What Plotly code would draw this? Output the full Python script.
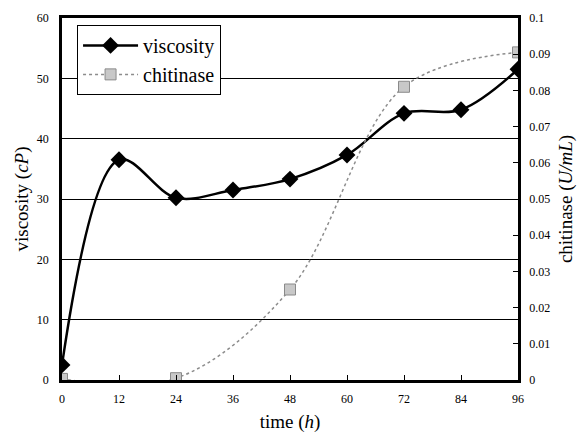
import plotly.graph_objects as go

time_visc = [0, 12, 24, 36, 48, 60, 72, 84, 96]
viscosity = [2.5, 36.5, 30.2, 31.5, 33.3, 37.3, 44.2, 44.8, 51.5]
time_chit = [0, 24, 48, 72, 96]
chitinase = [0.0003, 0.0005, 0.025, 0.081, 0.0905]
x_ticks = [0, 12, 24, 36, 48, 60, 72, 84, 96]
y2_ticks = [0, 0.01, 0.02, 0.03, 0.04, 0.05, 0.06, 0.07, 0.08, 0.09, 0.1]
y2_labels = ["0", "0.01", "0.02", "0.03", "0.04", "0.05", "0.06", "0.07", "0.08", "0.09", "0.1"]

FONT = "Liberation Serif, Times New Roman, serif"

fig = go.Figure()
fig.add_trace(go.Scatter(
    x=time_visc, y=viscosity, name="viscosity", mode="lines+markers",
    line=dict(color="black", width=2.5, shape="spline", smoothing=1.0),
    marker=dict(symbol="diamond", size=13, color="black"),
))
fig.add_trace(go.Scatter(
    x=time_chit, y=chitinase, name="chitinase", mode="lines+markers", yaxis="y2",
    line=dict(color="#8c8c8c", width=1.5, dash="dot", shape="spline", smoothing=1.0),
    marker=dict(symbol="square", size=11, color="#c8c8c8", line=dict(color="#8a8a8a", width=1)),
))

fig.update_layout(
    width=580, height=434,
    margin=dict(l=62, r=62, t=18, b=54, autoexpand=False),
    paper_bgcolor="white", plot_bgcolor="white",
    font=dict(family=FONT, color="black", size=12),
    showlegend=True,
    legend=dict(
        x=0.033, y=0.981, xanchor="left", yanchor="top",
        bgcolor="white", bordercolor="black", borderwidth=1,
        font=dict(family=FONT, size=20), itemwidth=55,
        tracegroupgap=0,
    ),
    xaxis=dict(
        range=[0, 96], tickvals=x_ticks, ticktext=[str(v) for v in x_ticks],
        showgrid=False, zeroline=False, automargin=False,
        showline=True, linecolor="black", linewidth=2.5, mirror=True,
        ticks="inside", ticklen=5, tickcolor="black", ticklabelstandoff=6,
        tickfont=dict(family=FONT, size=12),
        title=dict(text="time (<i>h</i>)", font=dict(family=FONT, size=19), standoff=10),
    ),
    yaxis=dict(
        range=[0, 60], dtick=10, showgrid=True, gridcolor="black", gridwidth=1,
        zeroline=False, showline=True, linecolor="black", linewidth=2.5, automargin=False,
        ticks="", ticklabelstandoff=8, tickfont=dict(family=FONT, size=12),
        title=dict(text="viscosity (<i>cP</i>)", font=dict(family=FONT, size=19), standoff=4),
    ),
    yaxis2=dict(
        range=[0, 0.1], overlaying="y", side="right", automargin=False,
        showgrid=False, zeroline=False, showline=True, linecolor="black", linewidth=2.5,
        ticks="inside", ticklen=5, tickcolor="black", ticklabelstandoff=6,
        tickvals=y2_ticks, ticktext=y2_labels,
        tickfont=dict(family=FONT, size=12),
        title=dict(text="chitinase (<i>U/mL</i>)", font=dict(family=FONT, size=19), standoff=10),
    ),
)

fig.write_html(
    "out.html",
    config={"displayModeBar": False},
    post_script="document.body.style.margin='0';document.body.style.overflow='hidden';",
)
